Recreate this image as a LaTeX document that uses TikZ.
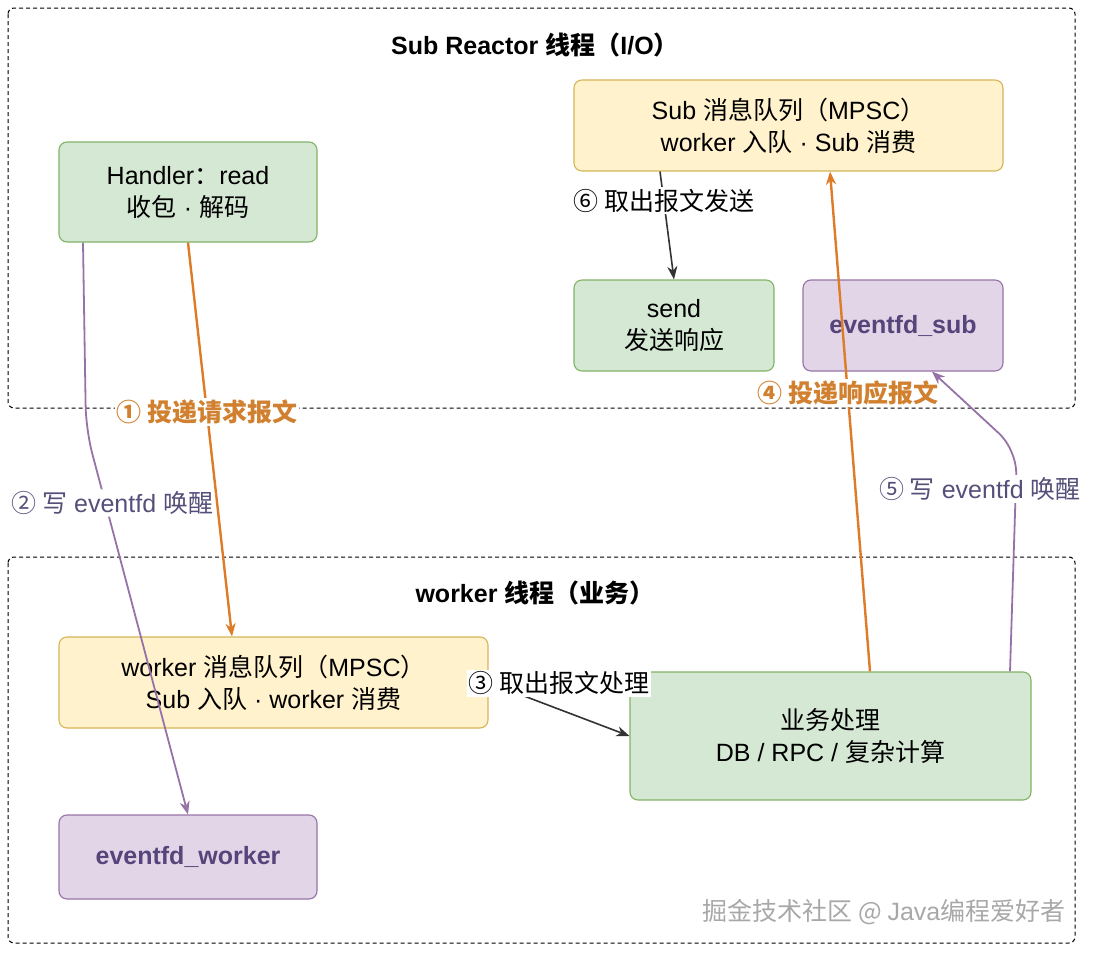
\documentclass[tikz,border=0pt]{standalone}
\usepackage{fontspec}
\setmainfont{Liberation Sans}
\newfontfamily\cjk{Noto Sans CJK SC}
\newcommand\zhc[1]{{\cjk #1}}
\usetikzlibrary{arrows.meta}
\definecolor{gfill}{HTML}{D5E8D4}
\definecolor{gline}{HTML}{82B366}
\definecolor{yfill}{HTML}{FFF2CC}
\definecolor{yline}{HTML}{D6B656}
\definecolor{pfill}{HTML}{E1D5E7}
\definecolor{pline}{HTML}{9673A6}
\definecolor{ptext}{HTML}{56447A}
\definecolor{plabel}{HTML}{55507A}
\definecolor{oline}{HTML}{DE7B26}
\definecolor{otext}{HTML}{D0802E}
\definecolor{dline}{HTML}{333333}
\definecolor{wmark}{HTML}{A8A8A8}
\tikzset{
  x=1pt, y=-1pt,
  container/.style={draw=black, dashed, dash pattern=on 4pt off 3pt, line width=1pt, rounded corners=6pt},
  box/.style={rounded corners=8pt, line width=1.1pt, align=center, inner sep=0pt,
    font=\fontsize{25}{32}\selectfont},
  gbox/.style={box, fill=gfill, draw=gline},
  ybox/.style={box, fill=yfill, draw=yline},
  pbox/.style={box, fill=pfill, draw=pline, text=ptext, font=\fontsize{25}{32}\selectfont\bfseries},
  title/.style={font=\fontsize{25}{30}\selectfont\bfseries, inner sep=0pt},
  lab/.style={fill=white, inner sep=2pt, font=\fontsize{25}{30}\selectfont},
  olab/.style={lab, text=otext, font=\fontsize{25}{30}\selectfont\bfseries},
  plab/.style={lab, text=plabel},
  tip/.style={-{Stealth[length=13pt,width=10pt,inset=4pt]}},
  oarr/.style={tip, draw=oline, line width=2.4pt},
  parr/.style={tip, draw=pline, line width=1.8pt, rounded corners=24pt},
  darr/.style={tip, draw=dline, line width=1.6pt},
}
\begin{document}
\begin{tikzpicture}
\useasboundingbox (0,0) rectangle (1093,953);
% containers
\draw[container] (8,8) rectangle (1075,408);
\draw[container] (8,557) rectangle (1075,943);
\node[title] (t1) at (535,45) {Sub Reactor \zhc{线程（}I/O\zhc{）}};
\node[title] (t2) at (535,593) {worker \zhc{线程（业务）}};
% boxes
\node[gbox, minimum width=258pt, minimum height=100pt] (handler) at (188,192)
  {Handler\zhc{：}read\\\zhc{收包} · \zhc{解码}};
\node[ybox, minimum width=429pt, minimum height=91pt] (subq) at (788.5,125.5)
  {Sub \zhc{消息队列（}MPSC\zhc{）}\\worker \zhc{入队} · Sub \zhc{消费}};
\node[gbox, minimum width=200pt, minimum height=91pt] (send) at (674,325.5)
  {send\\\zhc{发送响应}};
\node[pbox, minimum width=200pt, minimum height=91pt] (evsub) at (903,325.5)
  {eventfd\_sub};
\node[ybox, minimum width=429pt, minimum height=91pt] (wq) at (273.5,682.5)
  {worker \zhc{消息队列（}MPSC\zhc{）}\\Sub \zhc{入队} · worker \zhc{消费}};
\node[gbox, minimum width=401pt, minimum height=128pt] (biz) at (830.5,736)
  {\zhc{业务处理}\\DB / RPC / \zhc{复杂计算}};
\node[pbox, minimum width=258pt, minimum height=84pt] (evw) at (188,857)
  {eventfd\_worker};
% connectors
\draw[oarr] (handler.south) -- ([xshift=-41.5pt]wq.north)
  node[olab, pos=0.43] (l1) {\zhc{① 投递请求报文}};
\draw[parr] ([xshift=-105pt]handler.south) -- (86,430) -- (evw.north)
  node[plab, pos=0.19, xshift=7pt] (l2) {\zhc{② 写} eventfd \zhc{唤醒}};
\draw[darr] (wq.east) -- (biz.west)
  node[lab, pos=0.5, yshift=26pt] (l3) {\zhc{③ 取出报文处理}};
\draw[oarr] ([xshift=39.5pt]biz.north) -- ([xshift=41.5pt]subq.south)
  node[olab, pos=0.557] (l4) {\zhc{④ 投递响应报文}};
\draw[parr] ([xshift=179.5pt]biz.north) -- (1017,450) -- ([xshift=29pt]evsub.south);
\node[plab] (l5) at (980,489) {\zhc{⑤ 写} eventfd \zhc{唤醒}};
\draw[darr] ([xshift=-128.5pt]subq.south) -- (send.north)
  node[lab, pos=0.27] (l6) {\zhc{⑥ 取出报文发送}};
% watermark
\node[text=wmark, font=\fontsize{25}{30}\selectfont, inner sep=0pt] (wm) at (884,912)
  {\zhc{掘金技术社区 @ }Java\zhc{编程爱好者}};
\end{tikzpicture}
\end{document}
